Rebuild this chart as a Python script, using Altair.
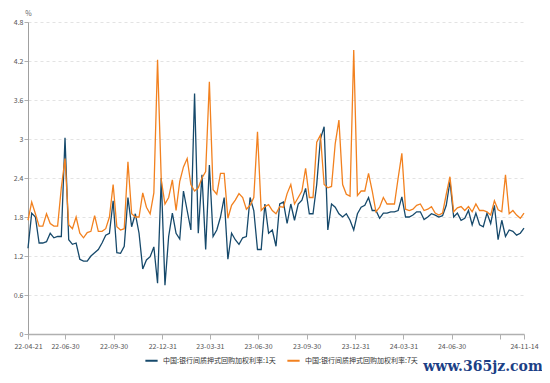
import altair as alt
import pandas as pd

# ---- data (weekly samples) ----
START = "2022-04-21"
N_POINTS = 135
SERIES_1D = "中国:银行间质押式回购加权利率:1天"
SERIES_7D = "中国:银行间质押式回购加权利率:7天"

rate_1d = [
    1.32, 1.86, 1.80, 1.40, 1.40, 1.42, 1.55, 1.48, 1.50, 1.50,
    3.02, 1.45, 1.38, 1.40, 1.15, 1.12, 1.12, 1.20, 1.25, 1.30,
    1.40, 1.52, 1.55, 2.05, 1.25, 1.24, 1.35, 2.10, 1.65, 1.85,
    1.55, 1.00, 1.14, 1.19, 1.34, 0.78, 2.40, 0.75, 1.50, 1.86,
    1.55, 1.46, 2.20, 1.90, 1.60, 3.70, 1.55, 2.45, 1.30, 2.60,
    1.50, 1.60, 1.80, 2.10, 1.15, 1.55, 1.45, 1.38, 1.48, 1.50,
    2.10, 1.90, 1.30, 1.30, 2.00, 1.55, 1.60, 1.35, 2.00, 2.03,
    1.70, 2.00, 1.75, 2.00, 2.06, 2.24, 1.85, 1.85, 2.30, 3.00,
    3.19, 1.60, 2.00, 1.95, 1.85, 1.80, 1.85, 1.75, 1.60, 1.85,
    1.95, 1.98, 2.10, 1.90, 1.90, 1.78, 1.86, 1.86, 1.88, 1.88,
    1.90, 2.11, 1.80, 1.80, 1.83, 1.88, 1.88, 1.76, 1.80, 1.85,
    1.83, 1.80, 1.82, 1.98, 2.35, 1.80, 1.86, 1.75, 1.78, 1.90,
    1.68, 1.86, 1.68, 1.65, 1.86, 1.70, 1.98, 1.45, 1.75, 1.50,
    1.60, 1.58, 1.52, 1.55, 1.63,
]
rate_7d = [
    1.75, 2.03, 1.85, 1.66, 1.66, 1.85, 1.70, 1.66, 1.66, 2.25,
    2.70, 1.68, 1.62, 1.80, 1.55, 1.48, 1.56, 1.58, 1.82, 1.58,
    1.58, 1.62, 1.80, 2.30, 1.65, 1.60, 1.62, 2.65, 1.85, 1.80,
    1.80, 2.17, 1.95, 1.85, 2.17, 4.22, 2.37, 2.00, 2.10, 2.37,
    1.90, 2.35, 2.57, 2.70, 2.30, 2.20, 2.25, 2.40, 2.50, 3.88,
    2.22, 2.15, 2.47, 2.47, 1.78, 1.98, 2.06, 2.16, 2.10, 1.92,
    1.98, 2.10, 3.11, 1.90, 1.96, 1.99, 1.90, 1.85, 1.96, 1.95,
    2.16, 2.30, 2.00, 2.10, 2.20, 2.55, 2.10, 2.10, 2.95, 3.06,
    2.30, 2.25, 2.27, 2.93, 3.29, 2.30, 2.15, 2.12, 4.37, 2.13,
    2.20, 2.20, 2.47, 2.20, 1.88, 1.95, 2.10, 2.00, 2.00, 2.00,
    2.40, 2.78, 1.92, 1.90, 1.92, 1.98, 2.00, 1.90, 1.92, 1.96,
    1.86, 1.83, 1.86, 2.15, 2.42, 1.88, 1.94, 1.96, 1.90, 1.96,
    1.88, 2.00, 1.90, 1.90, 1.88, 1.83, 2.05, 1.91, 1.88, 2.45,
    1.85, 1.90, 1.83, 1.78, 1.86,
]

x_ticks = [
    (2022, 4, 21), (2022, 6, 30), (2022, 9, 30), (2022, 12, 31),
    (2023, 3, 31), (2023, 6, 30), (2023, 9, 30), (2023, 12, 31),
    (2024, 3, 31), (2024, 6, 30), (2024, 9, 30), (2024, 11, 14),
]
hidden_tick_label = "24-09-30"
y_ticks = [0, 0.6, 1.2, 1.8, 2.4, 3.0, 3.6, 4.2, 4.8]
WATERMARK = "www.365jz.com"

dates = pd.date_range(START, periods=N_POINTS, freq="7D").strftime("%Y-%m-%d")
df = pd.concat([
    pd.DataFrame({"date": dates, "series": SERIES_1D, "value": rate_1d}),
    pd.DataFrame({"date": dates, "series": SERIES_7D, "value": rate_7d}),
])

FONT = "Noto Sans CJK SC"
BLUE = "#16496b"
ORANGE = "#f2811f"

def dt(t):
    return alt.DateTime(year=t[0], month=t[1], date=t[2], utc=True)

label_expr = (
    f"utcFormat(datum.value, '%y-%m-%d') == '{hidden_tick_label}' ? '' : "
    "utcFormat(datum.value, '%y-%m-%d')"
)

lines = alt.Chart(df).mark_line(strokeWidth=1.3).encode(
    x=alt.X(
        "date:T",
        scale=alt.Scale(type="utc", domain=[dt(x_ticks[0]), dt(x_ticks[-1])], nice=False),
        axis=alt.Axis(
            values=[dt(t) for t in x_ticks],
            labelExpr=label_expr,
            labelOverlap=False,
            labelFlush=False,
            title=None,
            grid=False,
            domainColor="#b0b0b0",
            domainWidth=1.5,
            tickColor="#b0b0b0",
            tickSize=5,
            labelFont=FONT,
            labelFontSize=7,
            labelColor="#555555",
            labelPadding=3,
        ),
    ),
    y=alt.Y(
        "value:Q",
        scale=alt.Scale(domain=[0, 4.8], nice=False),
        axis=alt.Axis(
            values=y_ticks,
            format="~g",
            labelFlush=False,
            title="%",
            titleAngle=0,
            titleX=0,
            titleY=-9,
            titleAlign="center",
            titleBaseline="middle",
            titleFont=FONT,
            titleFontSize=7,
            titleFontWeight="normal",
            titleColor="#666666",
            grid=True,
            gridColor="#e3e3e3",
            gridDash=[3, 3],
            domainColor="#a0a0a0",
            tickColor="#b0b0b0",
            tickSize=4,
            labelFont=FONT,
            labelFontSize=7,
            labelColor="#555555",
            labelPadding=1,
        ),
    ),
    color=alt.Color(
        "series:N",
        scale=alt.Scale(domain=[SERIES_1D, SERIES_7D], range=[BLUE, ORANGE]),
        legend=alt.Legend(
            title=None,
            orient="none",
            direction="horizontal",
            legendX=116,
            legendY=331,
            symbolType="stroke",
            symbolStrokeWidth=2,
            symbolSize=150,
            labelFont=FONT,
            labelFontSize=7,
            labelColor="#333333",
            columnPadding=7,
            labelOffset=4,
        ),
    ),
    order=alt.Order("series:N"),
)

mark = alt.Chart(pd.DataFrame({"t": [WATERMARK]})).mark_text(
    font="DejaVu Serif", fontSize=14, fontWeight="bold", color="#1c3f86", align="center", baseline="middle"
).encode(x=alt.value(455), y=alt.value(345), text="t:N")

chart = alt.layer(lines, mark).properties(
    width=496,
    height=312,
    autosize=alt.AutoSizeParams(type="none"),
    padding={"left": 20, "top": 14, "right": 18, "bottom": 41},
    background="white",
).configure_view(stroke=None)

chart.save("out.html", embed_options={"renderer": "svg", "actions": False})
